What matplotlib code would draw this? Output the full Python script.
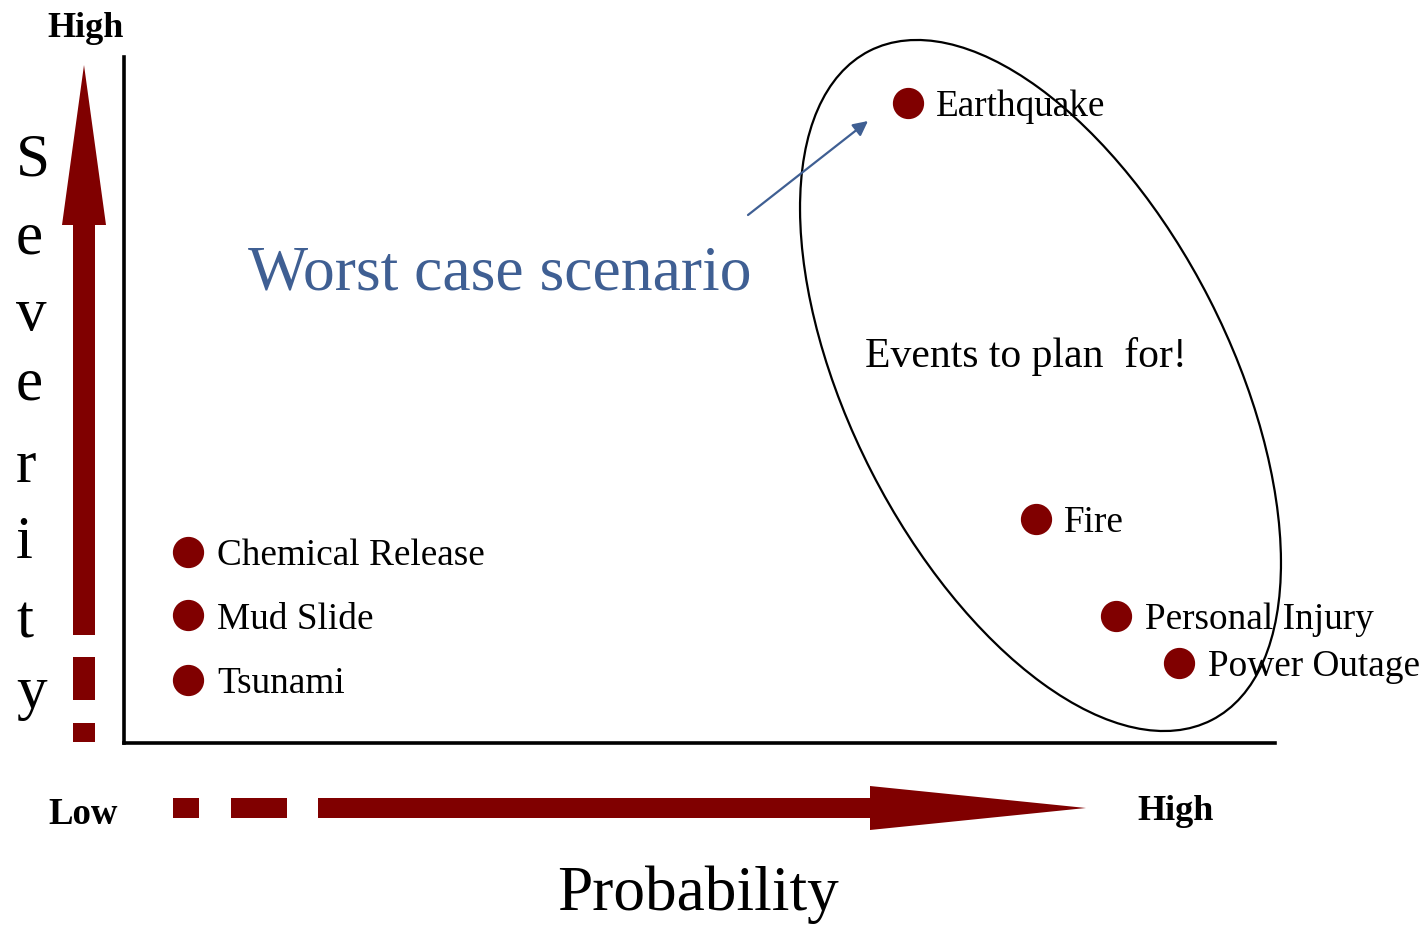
import matplotlib
matplotlib.use("Agg")
import matplotlib.pyplot as plt
from matplotlib.patches import Polygon, Rectangle, Ellipse, FancyArrowPatch

# ---- data (probability, severity on 0-100 scales) ----
events = ["Earthquake", "Fire", "Personal Injury", "Power Outage",
          "Chemical Release", "Mud Slide", "Tsunami"]
probability = [68.1, 79.2, 86.2, 91.7, 5.6, 5.6, 5.6]
severity = [93.3, 32.7, 18.5, 11.7, 27.8, 18.6, 9.2]

MAROON = "#800000"
BLUE = "#3F5F93"
SERIF = ["Liberation Serif", "DejaVu Serif"]

W, H = 1426, 925
fig = plt.figure(figsize=(W / 100, H / 100), dpi=100)

# overlay in pixel coordinates for decorations
ov = fig.add_axes([0, 0, 1, 1])
ov.set_xlim(0, W)
ov.set_ylim(H, 0)
ov.axis("off")

# main data axes
ax = fig.add_axes([124 / W, (H - 743) / H, 1151 / W, 686 / H])
ax.set_xlim(0, 100)
ax.set_ylim(0, 100)
ax.patch.set_alpha(0)
for s in ["top", "right"]:
    ax.spines[s].set_visible(False)
for s in ["left", "bottom"]:
    ax.spines[s].set_linewidth(2.6)
    ax.spines[s].set_color("black")
ax.set_xticks([])
ax.set_yticks([])

ax.plot(probability, severity, "o", color=MAROON, markersize=21.5,
        linestyle="none", zorder=3)
for name, x, y in zip(events, probability, severity):
    ax.annotate(name, (x, y), xytext=(20.5, -9.5), textcoords="offset points",
                ha="left", va="baseline", fontsize=26.8, family=SERIF,
                color="black", zorder=4)

# ellipse around events to plan for
ov.add_patch(Ellipse((1040.5, 385.5), 751.6, 379.4, angle=62.9,
                     fill=False, edgecolor="black", linewidth=1.6))

ov.text(865, 367, "Events to plan  for!", ha="left", va="baseline",
        fontsize=30, family=SERIF, color="black")

# Worst case scenario
ov.text(248, 289, "Worst case scenario", ha="left", va="baseline",
        fontsize=45.8, family=SERIF, color=BLUE)
ov.add_patch(FancyArrowPatch((748, 215), (868, 121), arrowstyle="-|>",
                             mutation_scale=22, color=BLUE, linewidth=1.6,
                             shrinkA=0, shrinkB=0))

# vertical severity arrow
ov.add_patch(Polygon([(62, 225), (84, 65), (106, 225)], closed=True,
                     color=MAROON, linewidth=0))
ov.add_patch(Rectangle((73, 224), 22, 411, color=MAROON, linewidth=0))
ov.add_patch(Rectangle((73, 657), 22, 43, color=MAROON, linewidth=0))
ov.add_patch(Rectangle((73, 723), 22, 19, color=MAROON, linewidth=0))

# horizontal probability arrow
ov.add_patch(Rectangle((173, 798), 26, 20, color=MAROON, linewidth=0))
ov.add_patch(Rectangle((231, 798), 56, 20, color=MAROON, linewidth=0))
ov.add_patch(Rectangle((318, 798), 553, 20, color=MAROON, linewidth=0))
ov.add_patch(Polygon([(870, 786), (1086, 808), (870, 830)], closed=True,
                     color=MAROON, linewidth=0))

# axis labels
ov.text(47, 37, "High", ha="left", va="baseline", fontsize=26,
        fontweight="bold", family=SERIF)
ov.text(48, 824, "Low", ha="left", va="baseline", fontsize=26.5,
        fontweight="bold", family=SERIF)
ov.text(1137, 820, "High", ha="left", va="baseline", fontsize=26,
        fontweight="bold", family=SERIF)
ov.text(557, 910, "Probability", ha="left", va="baseline", fontsize=45.6,
        family=SERIF)

letters = list("Severity")
baselines = [175, 253, 330, 400, 482, 558, 637, 708]
for ch, yb in zip(letters, baselines):
    ov.text(16, yb, ch, ha="left", va="baseline", fontsize=44, family=SERIF)

fig.savefig("out.png", dpi=100)
